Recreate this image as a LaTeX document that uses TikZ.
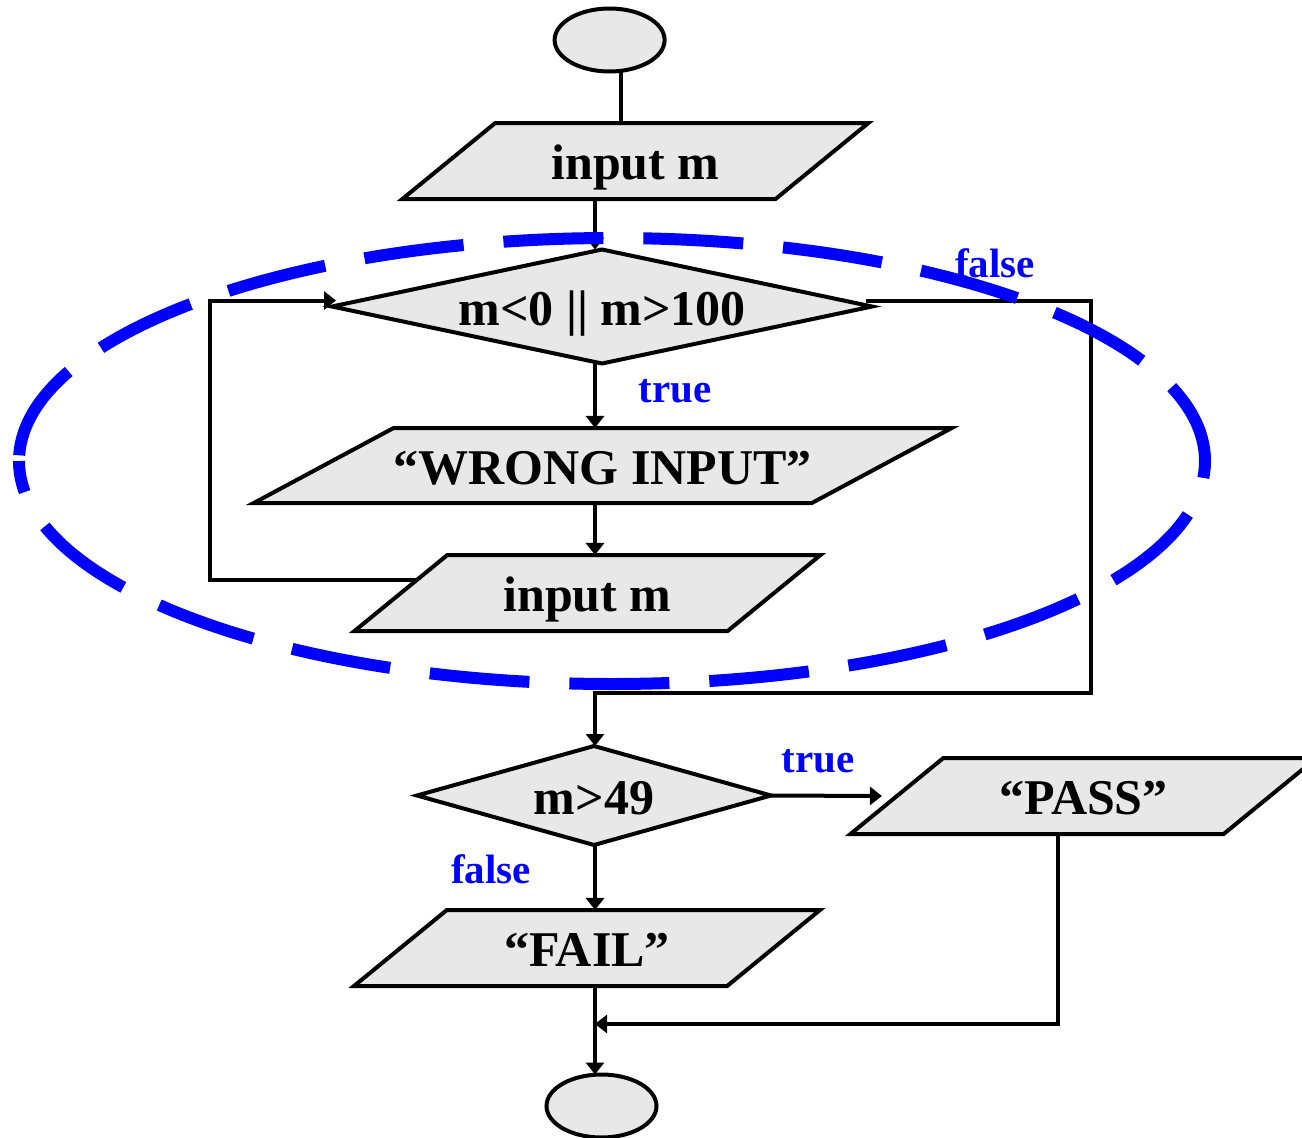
\documentclass[tikz,border=0pt]{standalone}
\usepackage{fontspec}
\setmainfont{Liberation Serif}
\usetikzlibrary{shapes.geometric,arrows.meta,calc}
\definecolor{shapegray}{RGB}{232,232,232}
\definecolor{loopblue}{RGB}{0,0,255}
\tikzset{
  base/.style={draw=black, line width=4pt, fill=shapegray, inner sep=0pt, outer sep=0pt},
  txt/.style={font=\fontsize{50}{56}\selectfont\bfseries, text height=37pt, text depth=0pt},
  para/.style={base, font=\fontsize{50}{56}\selectfont\bfseries, text height=56.5pt, text depth=19.5pt,
    trapezium, trapezium left angle=39.3, trapezium right angle=140.7,
    trapezium stretches body=true, minimum width=466pt},
  widepara/.style={para, text height=56pt, text depth=19pt, trapezium left angle=28.2, trapezium right angle=151.8, minimum width=698pt},
  dec/.style={base, txt, diamond},
  term/.style={base, ellipse, minimum width=110pt, minimum height=63pt},
  conn/.style={line width=4pt},
  arr/.style={line width=4pt, -{Triangle[width=18pt,length=12pt]}},
  lab/.style={text=loopblue, font=\fontsize{41}{46}\selectfont\bfseries, text height=28pt, text depth=0pt, inner sep=0pt},
  loopring/.style={draw=loopblue, line width=12pt, dash pattern=on 100pt off 40pt}
}
\begin{document}
\begin{tikzpicture}[x=1pt,y=-1pt]
\useasboundingbox (0,0) rectangle (1302,1138);
\clip (0,0) rectangle (1302,1138);
% helper coordinates
\coordinate (colA) at (595,0);
\coordinate (colS) at (621,0);
\coordinate (colR) at (1091,0);
\coordinate (rowR) at (0,693);
\coordinate (colL) at (210,0);
\coordinate (colP) at (1058,0);
\coordinate (merge) at (595,1024);
\coordinate (ringstart) at (1205,461);
% nodes
\node[term] (start) at (609.6,40) {};
\node[para] (in1) at (635.4,161) {input m};
\node[dec, aspect=4.74, minimum width=540pt, minimum height=114pt] (d1) at (602,306.5) {m<0 || m>100};
\node[widepara] (wrong) at (602.75,465.5) {“WRONG INPUT”};
\node[para] (in2) at (587.5,593) {input m};
\node[dec, aspect=3.58, minimum width=354pt, minimum height=99pt] (d2) at (594,795.5) {m>49};
\node[para] (pass) at (1083.5,796) {“PASS”};
\node[para] (fail) at (587,948) {“FAIL”};
\node[term] (stop) at (601.5,1106) {};
% connection points near the diamond tips
\coordinate (d1r) at ([shift={(-6pt,6pt)}]d1.east);
\coordinate (d1l) at ([shift={(4pt,6pt)}]d1.west);
\coordinate (lp) at ($(in2.top left corner)!0.33!(in2.bottom left corner)$);
% connectors
\draw[conn] (start.south -| colS) -- (in1.north -| colS);
\draw[arr] (in1.south -| colA) -- (d1.north -| colA);
\draw[arr] (d1.south -| colA) -- (wrong.north -| colA);
\draw[arr] (wrong.south -| colA) -- (in2.north -| colA);
\draw[arr] (lp) -- (lp -| colL) |- (d1l);
\draw[arr] (d1r) -- (d1r -| colR) -- (colR |- rowR) -- (colA |- rowR) -- (d2.north -| colA);
\draw[arr] (d2.east) -- ([xshift=-15pt]pass.left side);
\draw[arr] (d2.south -| colA) -- (fail.north -| colA);
\draw[arr] (fail.south -| colA) -- (stop.north -| colA);
\draw[arr] (pass.bottom side -| colP) |- (merge);
% dashed ring, two halves from the rightmost point
\draw[loopring, dash phase=17pt] (ringstart) arc[start angle=0, end angle=-180, x radius=593, y radius=223];
\draw[loopring, dash phase=83pt] (ringstart) arc[start angle=0, end angle=180, x radius=593, y radius=223];
% labels
\node[lab] (lf1) at (995,263) {false};
\node[lab] (lt1) at (675,388) {true};
\node[lab] (lt2) at (818,758) {true};
\node[lab] (lf2) at (491,869) {false};
\end{tikzpicture}
\end{document}
